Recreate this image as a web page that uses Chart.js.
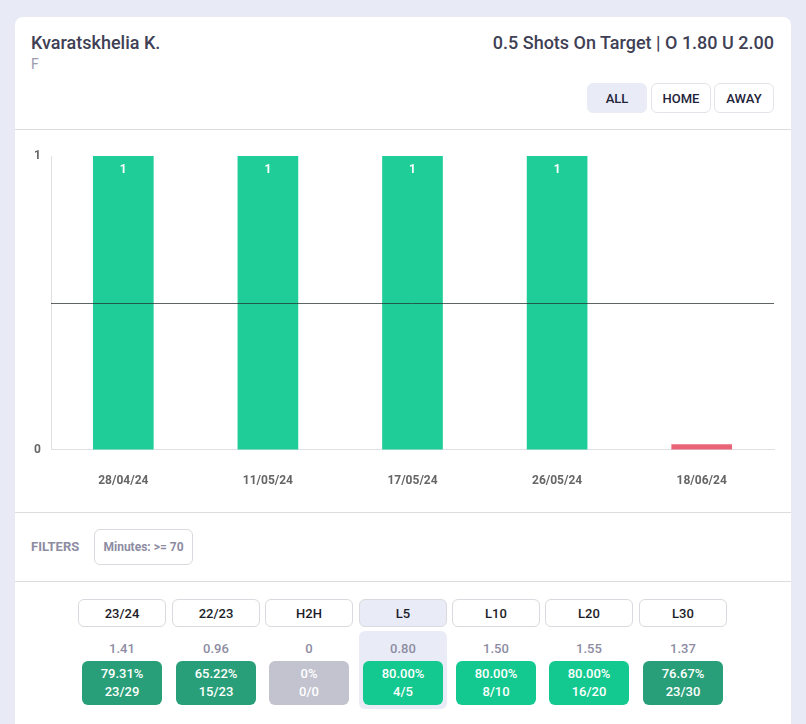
<!DOCTYPE html>
<html>
<head>
<meta charset="utf-8">
<script src="https://cdn.jsdelivr.net/npm/chart.js@4"></script>
<style>
  * { box-sizing: border-box; }
  html, body { margin: 0; height: 724px; overflow: hidden; background: #e8ebf5; font-family: Roboto, sans-serif; }
  .card { position: absolute; left: 15px; top: 17px; width: 776px; height: 720px; background: #fff; border-radius: 8px; }
  .abs { position: absolute; white-space: nowrap; }
  .rule { position: absolute; left: 0; width: 776px; height: 1px; background: #dcdde1; }
  .btn { position: absolute; border: 1px solid #e3e4ea; border-radius: 6px; background: #fff; color: #23233a; font-size: 13px; font-weight: 500; display: flex; align-items: center; justify-content: center; }
  .btn.active { background: #e9ecf6; border-color: #e9ecf6; }
  .chartBox { position: absolute; left: 0; top: 114px; width: 776px; height: 381px; }
  .tab { position: absolute; top: 582px; width: 88px; height: 28px; border: 1px solid #d9dadf; border-radius: 6px; font-size: 13px; font-weight: 500; color: #1c1c28; display: flex; align-items: center; justify-content: center; }
  .tab.active { background: #e9ecf6; }
  .hl { position: absolute; top: 614px; width: 88px; height: 78px; background: #e9ecf6; border-radius: 6px; }
  .avg { position: absolute; top: 624px; width: 88px; text-align: center; font-size: 13px; font-weight: 500; color: #8d8ca3; }
  .pct { position: absolute; top: 644px; width: 80px; height: 44px; border-radius: 6px; color: #fff; font-size: 13px; font-weight: 500; line-height: 18px; text-align: center; padding-top: 4px; }
</style>
</head>
<body>
<div class="card" id="card">
  <div class="abs" style="left:16px;top:15px;font-size:18px;font-weight:500;color:#3f3f55">Kvaratskhelia K.</div>
  <div class="abs" style="left:16px;top:39px;font-size:14px;color:#9a9aac">F</div>
  <div class="abs" style="right:17px;top:15px;font-size:18px;font-weight:500;color:#3f3f55">0.5 Shots On Target | O 1.80 U 2.00</div>
  <div class="btn active" style="left:572px;top:66px;width:60px;height:30px">ALL</div>
  <div class="btn" style="left:636px;top:66px;width:60px;height:30px">HOME</div>
  <div class="btn" style="left:699px;top:66px;width:60px;height:30px">AWAY</div>
  <div class="rule" style="top:112px"></div>
  <div class="chartBox"><canvas id="shotsChart" width="776" height="381"></canvas></div>
  <div class="rule" style="top:495px"></div>
  <div class="abs" style="left:16px;top:522px;font-size:13px;font-weight:700;color:#8d8ca3">FILTERS</div>
  <div class="btn" style="left:79px;top:512px;width:99px;height:36px;border-color:#d9dadf;color:#8d8ca3;font-size:12px;font-weight:700">Minutes: &gt;= 70</div>
  <div class="rule" style="top:564px"></div>
</div>
<script>
// Shots on target, last five games
const games = ["28/04/24", "11/05/24", "17/05/24", "26/05/24", "18/06/24"];
const shots = [1, 1, 1, 1, 0];
const line = 0.5;

// Zero games still get a small red stub, same as the site
const ZERO_STUB = 0.017;
const GREEN = "rgba(30, 205, 152, 1)";
const RED = "#ea6478";

// Season / form table under the chart
const splits = [
  { tab: "23/24", left: 63, avg: "1.41", pct: "79.31%", count: "23/29", color: "#289f78" },
  { tab: "22/23", left: 157, avg: "0.96", pct: "65.22%", count: "15/23", color: "#289f78" },
  { tab: "H2H", left: 250, avg: "0", pct: "0%", count: "0/0", color: "#c2c3cf" },
  { tab: "L5", left: 344, avg: "0.80", pct: "80.00%", count: "4/5", color: "#13c98f", active: true },
  { tab: "L10", left: 437, avg: "1.50", pct: "80.00%", count: "8/10", color: "#13c98f" },
  { tab: "L20", left: 530, avg: "1.55", pct: "80.00%", count: "16/20", color: "#13c98f" },
  { tab: "L30", left: 624, avg: "1.37", pct: "76.67%", count: "23/30", color: "#289f78" }
];

const card = document.getElementById("card");
splits.forEach((s) => {
  let html = "";
  if (s.active) html += `<div class="hl" style="left:${s.left}px"></div>`;
  html += `<div class="tab${s.active ? " active" : ""}" style="left:${s.left}px">${s.tab}</div>`;
  html += `<div class="avg" style="left:${s.left}px">${s.avg}</div>`;
  html += `<div class="pct" style="left:${s.left + 4}px;background:${s.color}">${s.pct}<br>${s.count}</div>`;
  card.insertAdjacentHTML("beforeend", html);
});

// Threshold line and the value labels inside the bars
const overlay = {
  id: "overlay",
  afterDatasetsDraw(chart) {
    const { ctx, chartArea, scales } = chart;
    const y = Math.round(scales.y.getPixelForValue(line)) + 0.5;
    ctx.save();
    ctx.strokeStyle = "rgba(40, 50, 45, 0.75)";
    ctx.lineWidth = 1;
    ctx.beginPath();
    ctx.moveTo(chartArea.left, y);
    ctx.lineTo(chartArea.right, y);
    ctx.stroke();

    ctx.fillStyle = "#fff";
    ctx.font = "700 12px Roboto";
    ctx.textAlign = "center";
    ctx.textBaseline = "middle";
    chart.getDatasetMeta(0).data.forEach((bar, i) => {
      if (shots[i] > 0) ctx.fillText(shots[i], bar.x, bar.y + 14);
    });
    ctx.restore();
  }
};

new Chart(document.getElementById("shotsChart").getContext("2d"), {
  type: "bar",
  data: {
    labels: games,
    datasets: [{
      data: shots.map((v) => Math.max(v, ZERO_STUB)),
      backgroundColor: shots.map((v) => (v >= line ? GREEN : RED)),
      barThickness: 60
    }]
  },
  options: {
    responsive: false,
    animation: false,
    layout: { padding: { top: 25, right: 17, left: 0, bottom: 0 } },
    plugins: { legend: { display: false }, tooltip: { enabled: false } },
    scales: {
      x: {
        grid: { display: false, drawTicks: false },
        border: { color: "#dfe0e4" },
        ticks: { color: "#666", font: { family: "Roboto", size: 12, weight: "bold" }, padding: 24, maxRotation: 0 }
      },
      y: {
        min: 0,
        max: 1,
        afterFit: (scale) => { scale.width = 36; },
        grid: { display: false, drawTicks: false },
        border: { color: "#dfe0e4" },
        ticks: { stepSize: 1, color: "#666", font: { family: "Roboto", size: 12, weight: "bold" }, padding: 10 }
      }
    }
  },
  plugins: [overlay]
});
</script>
</body>
</html>
